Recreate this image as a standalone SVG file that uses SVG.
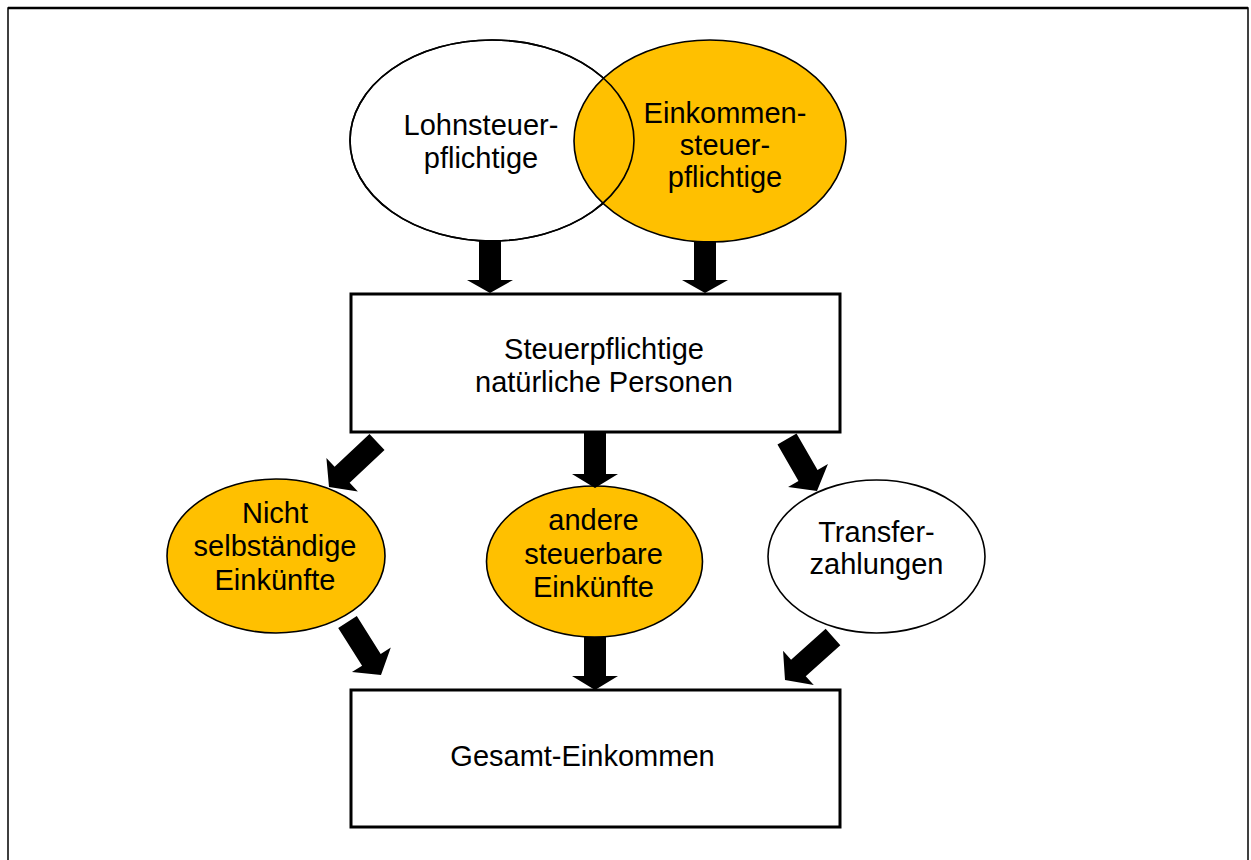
<svg xmlns="http://www.w3.org/2000/svg" width="1251" height="860" viewBox="0 0 1251 860">
<style>
text{font-family:"Liberation Sans",Arial,sans-serif;font-size:29px;fill:#000;text-anchor:middle}
.ell{stroke:#000;stroke-width:1.6}
.yel{fill:#FFC000}
.wht{fill:#fff}
.box{fill:#fff;stroke:#000;stroke-width:3}
.arr{fill:#000;stroke:none}
</style>
<rect x="0" y="0" width="1251" height="860" fill="#fff"/>
<g id="frame">
<rect x="8" y="8" width="1240" height="880" fill="none" stroke="#000" stroke-width="1.5"/>
<line x1="8" y1="8" x2="1248" y2="8" stroke="#000" stroke-width="2.5"/>
</g>
<g id="lohnsteuerpflichtige">
<ellipse class="ell wht" cx="492" cy="140.5" rx="142" ry="100.5"/>
</g>
<g id="einkommensteuerpflichtige">
<ellipse class="ell yel" cx="710" cy="141" rx="136" ry="101"/>
<text x="725"><tspan x="725" y="123">Einkommen-</tspan><tspan x="725" y="155">steuer-</tspan><tspan x="725" y="187">pflichtige</tspan></text>
</g>
<g id="lohnsteuerpflichtige-label">
<ellipse class="ell" fill="none" cx="492" cy="140.5" rx="142" ry="100.5"/>
<text x="481"><tspan x="481" y="135">Lohnsteuer-</tspan><tspan x="481" y="167.5">pflichtige</tspan></text>
</g>
<g id="steuerpflichtige">
<rect class="box" x="351" y="294" width="489" height="138"/>
<text x="604"><tspan x="604" y="359">Steuerpflichtige</tspan><tspan x="604" y="392">natürliche Personen</tspan></text>
</g>
<g id="nicht-selbstaendige">
<ellipse class="ell yel" cx="276" cy="556" rx="109" ry="77"/>
<text x="275"><tspan x="275" y="523">Nicht</tspan><tspan x="275" y="556">selbständige</tspan><tspan x="275" y="589.5">Einkünfte</tspan></text>
</g>
<g id="andere-steuerbare">
<ellipse class="ell yel" cx="594.5" cy="561.5" rx="108" ry="75.5"/>
<text x="593.5"><tspan x="593.5" y="530">andere</tspan><tspan x="593.5" y="563.5">steuerbare</tspan><tspan x="593.5" y="597">Einkünfte</tspan></text>
</g>
<g id="transferzahlungen">
<ellipse class="ell wht" cx="876.5" cy="556.5" rx="108.5" ry="76.5"/>
<text x="876.5"><tspan x="876.5" y="542">Transfer-</tspan><tspan x="876.5" y="574">zahlungen</tspan></text>
</g>
<g id="gesamt-einkommen">
<rect class="box" x="351" y="690" width="489" height="137"/>
<text x="582.5" y="766">Gesamt-Einkommen</text>
</g>
<g id="connectors">
<polygon class="arr" points="479,240 501,240 501,280 513,280 490,293 467,280 479,280"/>
<polygon class="arr" points="694,241 716,241 716,280 728,280 705,293 682,280 694,280"/>
<polygon class="arr" points="584,432 606,432 606,474 618,474 595,488 572,474 584,474"/>
<polygon class="arr" points="369.48,433.98 334.61,466.67 326.40,457.91 329,487 357.86,491.47 349.65,482.71 384.52,450.02"/>
<polygon class="arr" points="796.53,433.50 817.54,469.91 827.93,463.92 817,491 788.09,486.90 798.48,480.91 777.47,444.50"/>
<polygon class="arr" points="356.80,616.12 380.68,653.90 390.82,647.49 381,675 351.94,672.07 362.08,665.66 338.20,627.88"/>
<polygon class="arr" points="584,637 606,637 606,676 618,676 595,690 572,676 584,676"/>
<polygon class="arr" points="825.66,628.81 791.07,659.80 783.06,650.86 785,680 813.76,685.12 805.75,676.18 840.34,645.19"/>
</g>
</svg>
